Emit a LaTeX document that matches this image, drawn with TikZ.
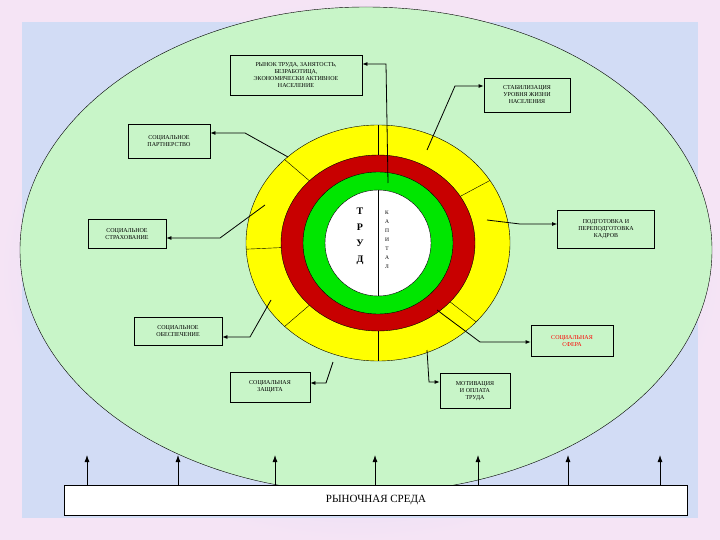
\documentclass[tikz,border=0pt]{standalone}
\usepackage{fontspec}
\setmainfont{Liberation Serif}
\usetikzlibrary{arrows.meta}
\definecolor{bgin}{RGB}{190,205,240}
\definecolor{bgout}{RGB}{245,228,245}
\definecolor{ellg}{RGB}{200,245,200}
\definecolor{ylw}{RGB}{255,255,0}
\definecolor{rd}{RGB}{200,0,0}
\definecolor{grn}{RGB}{0,230,0}
\tikzset{
 lbl/.style={draw=black,thick,fill=ellg,font=\fontsize{6}{7}\selectfont,align=center,inner sep=3pt},
 conn/.style={thick,-{Latex[length=5pt,width=4pt]}},
 upar/.style={thick,-{Latex[length=7pt,width=5pt]}}
}
\begin{document}
\begin{tikzpicture}[x=1pt,y=-1pt]
\useasboundingbox (0,0) rectangle (720,540);
\shade[inner color=bgin,outer color=bgout] (0,0) rectangle (720,540);
\fill[bgin!70!white] (22,22) rectangle (698,518);
\draw[fill=ellg] (366,250) ellipse [x radius=346,y radius=243];
% rings
\draw[fill=ylw] (378,243) ellipse [x radius=132,y radius=118];
\foreach \a in {90,135,183,225,270,318,32} {
  \draw (378,243) ++(\a:{132} and {-118}) coordinate (o) (378,243) ++(\a:{97} and {-88}) -- (o);
}
\draw[fill=rd] (378,243) ellipse [x radius=97,y radius=88];
\draw[fill=grn] (378,243) ellipse [x radius=75,y radius=71];
\draw[fill=white] (378,243) ellipse [x radius=53,y radius=53];
\draw (378,190) -- (378,296);
\node[font=\bfseries\fontsize{10}{11}\selectfont,align=center] (trud) at (360,236) {Т\\[5pt]Р\\[5pt]У\\[5pt]Д};
\node[font=\fontsize{5.5}{9}\selectfont,align=center] (kap) at (387,240) {К\\А\\П\\И\\Т\\А\\Л};
% boxes
\node[lbl,minimum width=132,minimum height=40] (rynok) at (296,75) {РЫНОК ТРУДА, ЗАНЯТОСТЬ,\\БЕЗРАБОТИЦА,\\ЭКОНОМИЧЕСКИ АКТИВНОЕ\\НАСЕЛЕНИЕ};
\node[lbl,minimum width=86,minimum height=34] (stab) at (527,95) {СТАБИЛИЗАЦИЯ\\УРОВНЯ ЖИЗНИ\\НАСЕЛЕНИЯ};
\node[lbl,minimum width=82,minimum height=34] (part) at (169,141) {СОЦИАЛЬНОЕ\\ПАРТНЕРСТВО};
\node[lbl,minimum width=78,minimum height=29] (strah) at (127,234) {СОЦИАЛЬНОЕ\\СТРАХОВАНИЕ};
\node[lbl,minimum width=97,minimum height=38] (podg) at (606,229) {ПОДГОТОВКА И\\ПЕРЕПОДГОТОВКА\\КАДРОВ};
\node[lbl,minimum width=88,minimum height=28] (obes) at (178,331) {СОЦИАЛЬНОЕ\\ОБЕСПЕЧЕНИЕ};
\node[lbl,minimum width=82,minimum height=31,text=red] (sfera) at (572,341) {СОЦИАЛЬНАЯ\\СФЕРА};
\node[lbl,minimum width=80,minimum height=30] (zash) at (270,387) {СОЦИАЛЬНАЯ\\ЗАЩИТА};
\node[lbl,minimum width=70,minimum height=35] (motiv) at (475,391) {МОТИВАЦИЯ\\И ОПЛАТА\\ТРУДА};
\node[draw,thick,fill=white,minimum width=623,minimum height=30,font=\fontsize{11}{12}\selectfont] (sreda) at (376,500) {РЫНОЧНАЯ СРЕДА};
% connectors
\coordinate (c1) at (388,183); \draw[conn] (c1) -- (386,64) -- (rynok.east |- 0,64);
\coordinate (c2) at (427,150); \draw[conn] (c2) -- (455,86) -- (stab.west |- 0,86);
\coordinate (c3) at (288,157); \draw[conn] (c3) -- (245,133) -- (part.east |- 0,133);
\coordinate (c4) at (265,205); \draw[conn] (c4) -- (220,238) -- (strah.east |- 0,238);
\coordinate (c5) at (487,220); \draw[conn] (c5) -- (520,224) -- (podg.west |- 0,224);
\coordinate (c6) at (271,300); \draw[conn] (c6) -- (250,337) -- (obes.east |- 0,337);
\coordinate (c7) at (437,310); \draw[conn] (c7) -- (480,342) -- (sfera.west |- 0,342);
\coordinate (c8) at (333,362); \draw[conn] (c8) -- (326,383) -- (zash.east |- 0,383);
\coordinate (c9) at (427,350); \draw[conn] (c9) -- (429,382) -- (motiv.west |- 0,382);
\foreach \x in {87,178,275,375,478,568,660} {
  \draw[upar] (\x,485) -- (\x,455);
}
\end{tikzpicture}
\end{document}
